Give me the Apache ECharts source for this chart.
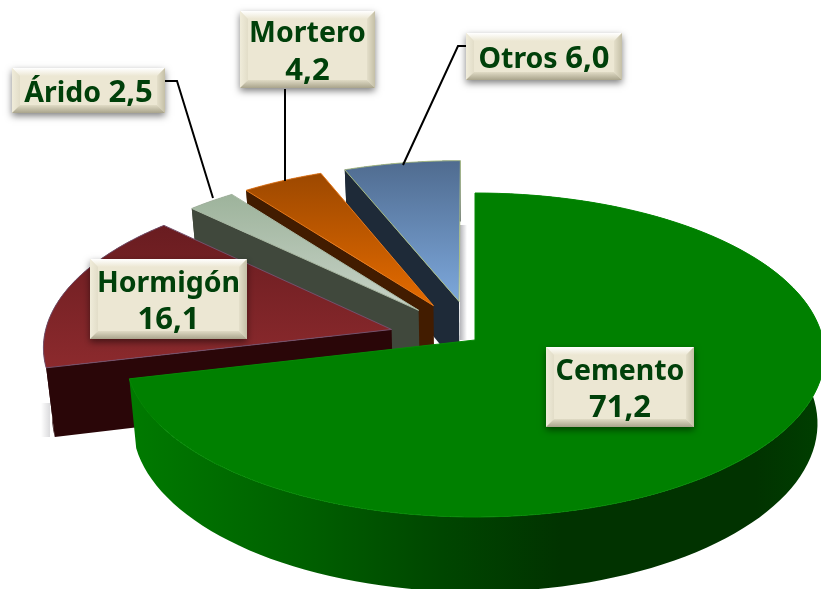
<!DOCTYPE html>
<html>
<head>
<meta charset="utf-8">
<title>Cemento</title>
<script src="https://cdn.jsdelivr.net/npm/echarts@6/dist/echarts.min.js"></script>
<style>
  html, body { margin: 0; padding: 0; background: #fff; }
  #main { width: 821px; height: 589px; }
</style>
</head>
<body>
<div id="main"></div>
<script>
// data
var categories = ['Cemento', 'Hormigón', 'Árido', 'Mortero', 'Otros'];
var values = [71.2, 16.1, 2.5, 4.2, 6.0];
var exploded = [0, 0.25, 0.25, 0.25, 0.25];
var labelTwoLines = [true, true, false, true, false];

// colours per slice: top of face, bottom of face, side wall, thin edge
var faceTop = ['#008000', '#691c20', '#9db39b', '#9c4800', '#4f6b8f'];
var faceBottom = ['#008000', '#8c2a2d', '#c8d3c8', '#e56b00', '#7da8dc'];
var wallColor = ['#013300', '#2a0608', '#40483c', '#421c00', '#1e2a38'];
var edgeColor = ['#058a05', '#74506c', '#a9b9a4', '#e8791a', '#a9bd84'];
// the green rim gets lighter to the left
var rimStops = [
  { offset: 0, color: '#007a00' },
  { offset: 0.25, color: '#006000' },
  { offset: 0.45, color: '#004600' },
  { offset: 0.62, color: '#013300' },
  { offset: 0.9, color: '#013300' },
  { offset: 1, color: '#003f00' }
];

// label boxes, same order as categories
var boxes = [
  { x: 546, y: 347, w: 148, h: 80 },
  { x: 90, y: 259, w: 157, h: 80 },
  { x: 12, y: 68, w: 153, h: 45 },
  { x: 240, y: 11, w: 135, h: 77 },
  { x: 466, y: 33, w: 156, h: 47 }
];
// leader lines
var leaders = [
  [[165, 81], [177, 81], [213, 198]],
  [[285, 89], [285, 181]],
  [[466, 46], [458, 46], [403, 165]]
];
// soft grey patches left by the slices, [x, y, w, h, fades to the right, alpha]
var shadows = [
  [460, 225, 7, 115, true, 0.45],
  [41, 403, 9, 34, false, 0.22]
];

// pie geometry, a flat disc seen in perspective
var cx = 475, cy = 340;
var scaleX = 348, scaleY = 160.6, persp = -0.0926;
var depth = 68, bottomShrink = 0.98;

function project(u, v, bottom) {
  var d = 1 + persp * v;
  var x = scaleX * u / d, y = scaleY * v / d;
  if (bottom) {
    return [cx + x * bottomShrink, cy + y + depth / d];
  }
  return [cx + x, cy + y];
}

var total = values.reduce(function (a, b) { return a + b; }, 0);
var slices = [];
var acc = 0;
values.forEach(function (val, i) {
  var a0 = acc / total * Math.PI * 2;
  acc += val;
  var a1 = acc / total * Math.PI * 2;
  var mid = (a0 + a1) / 2;
  slices.push({
    a0: a0, a1: a1,
    ox: exploded[i] * Math.sin(mid),
    oy: -exploded[i] * Math.cos(mid)
  });
});

function rimPoints(s, bottom, reverse) {
  var pts = [];
  var n = 120;
  for (var k = 0; k <= n; k++) {
    var t = s.a0 + (s.a1 - s.a0) * (reverse ? n - k : k) / n;
    pts.push(project(s.ox + Math.sin(t), s.oy - Math.cos(t), bottom));
  }
  return pts;
}

function renderSlice(params, api) {
  var i = api.value(0);
  var s = slices[i];
  var top = [project(s.ox, s.oy, false)].concat(rimPoints(s, false, false));
  var rim = rimPoints(s, false, false).concat(rimPoints(s, true, true));
  var u0 = Math.sin(s.a0), v0 = -Math.cos(s.a0);
  // cut wall under the first radial edge
  var wall = [
    project(s.ox, s.oy, false),
    project(s.ox + u0, s.oy + v0, false),
    project(s.ox + u0, s.oy + v0, true),
    project(s.ox, s.oy, true)
  ];
  var rimFill = i === 0 ? new echarts.graphic.LinearGradient(0, 0, 1, 0, rimStops) : wallColor[i];
  return {
    type: 'group',
    children: [
      { type: 'polygon', shape: { points: rim }, style: { fill: rimFill } },
      { type: 'polygon', shape: { points: wall }, style: { fill: wallColor[i] } },
      {
        type: 'polygon',
        shape: { points: top },
        style: {
          fill: new echarts.graphic.LinearGradient(0, 0, 0, 1, [
            { offset: 0, color: faceTop[i] },
            { offset: 1, color: faceBottom[i] }
          ]),
          stroke: edgeColor[i],
          lineWidth: 1
        }
      }
    ]
  };
}

function labelText(i) {
  var v = values[i].toFixed(1).replace('.', ',');
  return '{n|' + categories[i] + '}' + (labelTwoLines[i] ? '\n' : ' ') + '{v|' + v + '}';
}

function bevel(points, colorA, colorB, x0, y0, x1, y1) {
  return {
    type: 'polygon',
    shape: { points: points },
    style: { fill: new echarts.graphic.LinearGradient(x0, y0, x1, y1, [
      { offset: 0, color: colorA },
      { offset: 1, color: colorB }
    ]) }
  };
}

function renderLabel(params, api) {
  var i = api.value(0);
  var b = boxes[i];
  var e = 8; // bevel
  var x0 = b.x, y0 = b.y, x1 = b.x + b.w, y1 = b.y + b.h;
  return {
    type: 'group',
    children: [
      {
        type: 'rect',
        shape: { x: x0, y: y0, width: b.w, height: b.h },
        style: { fill: '#ece7d3', shadowBlur: 7, shadowOffsetY: 3, shadowOffsetX: 0, shadowColor: 'rgba(0,0,0,0.5)' }
      },
      bevel([[x0, y0], [x1, y0], [x1 - e, y0 + e], [x0 + e, y0 + e]], '#ffffff', '#ece7d3', 0, 0, 0, 1),
      bevel([[x0, y0], [x0 + e, y0 + e], [x0 + e, y1 - e], [x0, y1]], '#f0ecda', '#e2ddc8', 0, 0, 1, 0),
      bevel([[x1, y0], [x1 - e, y0 + e], [x1 - e, y1 - e], [x1, y1]], '#e4dfca', '#c4bfa6', 0, 0, 1, 0),
      bevel([[x0, y1], [x0 + e, y1 - e], [x1 - e, y1 - e], [x1, y1]], '#e0dbc5', '#a9a48c', 0, 0, 0, 1),
      {
        type: 'text',
        style: {
          x: (x0 + x1) / 2,
          y: (y0 + y1) / 2 + 3,
          text: labelText(i),
          fill: '#00400a',
          fontFamily: 'Noto Sans',
          fontWeight: 'bold',
          fontSize: 29,
          align: 'center',
          verticalAlign: 'middle',
          rich: {
            n: { fontFamily: 'Noto Sans', fontWeight: 'bold', fontSize: 28.5, lineHeight: 37, fill: '#00400a' },
            v: { fontFamily: 'Noto Sans', fontWeight: 'bold', fontSize: 31, lineHeight: 37, fill: '#00400a' }
          }
        }
      }
    ]
  };
}

function renderLeader(params, api) {
  var pts = leaders[api.value(0)];
  return {
    type: 'polyline',
    shape: { points: pts },
    style: { fill: null, stroke: '#000', lineWidth: 2 }
  };
}

function renderShadow(params, api) {
  var p = shadows[api.value(0)];
  return {
    type: 'rect',
    shape: { x: p[0], y: p[1], width: p[2], height: p[3] },
    style: {
      fill: new echarts.graphic.LinearGradient(p[4] ? 0 : 1, 0, p[4] ? 1 : 0, 0, [
        { offset: 0, color: 'rgba(90,90,100,' + p[5] + ')' },
        { offset: 1, color: 'rgba(90,90,100,0)' }
      ])
    }
  };
}

var chart = echarts.init(document.getElementById('main'), null, { renderer: 'canvas' });
chart.setOption({
  animation: false,
  backgroundColor: '#fff',
  series: [
    {
      type: 'custom',
      coordinateSystem: 'none',
      renderItem: renderShadow,
      data: [[0], [1]],
      silent: true,
      z: 0
    },
    {
      // back to front so nearer slices cover the walls behind them
      type: 'custom',
      coordinateSystem: 'none',
      renderItem: renderSlice,
      data: [[4], [3], [2], [1], [0]],
      silent: true,
      z: 1
    },
    {
      type: 'custom',
      coordinateSystem: 'none',
      renderItem: renderLeader,
      data: [[0], [1], [2]],
      silent: true,
      z: 2
    },
    {
      type: 'custom',
      coordinateSystem: 'none',
      renderItem: renderLabel,
      data: [[0], [1], [2], [3], [4]],
      silent: true,
      z: 3
    }
  ]
});
</script>
</body>
</html>
